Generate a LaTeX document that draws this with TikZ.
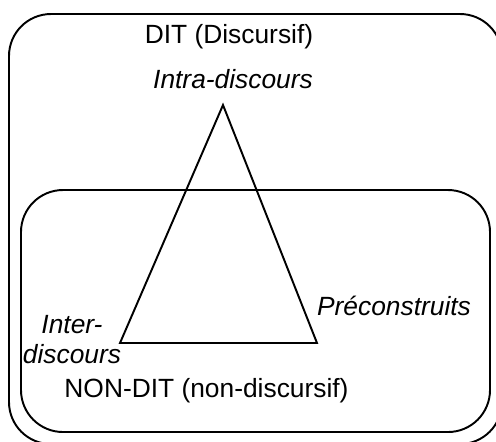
\documentclass[tikz,border=0pt]{standalone}
\usepackage{fontspec}
\setmainfont{Liberation Sans}
\usepackage{tikz}
\usetikzlibrary{positioning,calc}

\begin{document}
\begin{tikzpicture}[x=0.02cm, y=-0.02cm,
    zone/.style={draw, line width=1.1pt, rounded corners=0.84cm},
    lbl/.style={font=\fontsize{15}{17}\selectfont, anchor=base, inner sep=0pt},
    ilbl/.style={lbl, font=\fontsize{15}{17}\selectfont\itshape}]
    \clip (0,0) rectangle (496,441);

    % the two zones
    \draw[zone] (9,14) rectangle (502,444);
    \draw[zone] (21,190) rectangle (490,432);

    % triangle of the three poles
    \coordinate (apex) at (223,105);
    \coordinate (left) at (120,343);
    \coordinate (right) at (317,343);
    \draw[line width=1.1pt] (apex) -- (left) -- (right) -- cycle;

    \node[lbl] (dit) at (229,43) {DIT (Discursif)};
    \node[ilbl] (intra) at (233,88) {Intra-discours};
    \node[ilbl] (precon) at (394,315) {Préconstruits};
    \node[ilbl, align=center] (inter) at (72,363) {Inter-\\discours};
    \node[lbl] (nondit) at (206.5,397) {NON-DIT (non-discursif)};
\end{tikzpicture}
\end{document}
